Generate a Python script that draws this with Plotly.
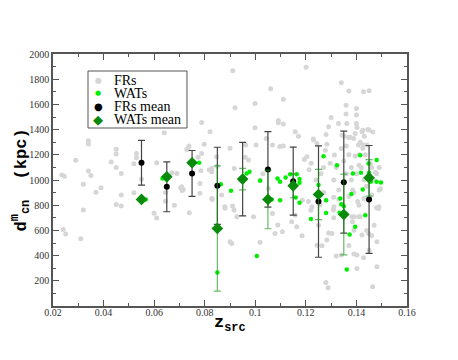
import plotly.graph_objects as go

# ---- data ----
fr_z = [0.0235,0.0245,0.0240,0.0250,0.0290,0.0310,0.0320,0.0320,0.0340,0.0340,0.0340,0.0350,0.0370,0.0390,
        0.0430,0.0450,0.0450,0.0450,0.0450,0.0470,0.0470,0.0470,0.0520,0.0520,0.0530,0.0530,0.0550,0.0600,
        0.0610,0.0610,0.0640,0.0645,0.0645,0.0670,0.0680,0.0690,0.0705,0.0711,0.0709,0.0715,0.0729,0.0735,
        0.0738,0.0739,0.0774,0.0788,0.0785,0.0781,0.0781,0.0788,0.0798,0.0821,0.0818,0.0828,0.0828,0.0830,
        0.0828,0.0847,0.0850,0.0867,0.0880,0.0880,0.0900,0.0911,0.0920,0.0910,0.0916,0.0927,0.0907,0.0900,
        0.0917,0.0940,0.0962,0.0973,0.0960,0.0993,0.0999,0.0999,0.1003,0.1019,0.1020,0.1030,0.1043,0.1052,
        0.1061,0.1068,0.1068,0.1078,0.1089,0.1091,0.1091,0.1097,0.1107,0.1111,0.1111,0.1111,0.1144,0.1158,
        0.1158,0.1164,0.1171,0.1185,0.1194,0.1201,0.1210,0.1221,0.1220,0.1230,0.1244,0.1240,0.1250,0.1260,
        0.1270,0.1270,0.1280,0.1283,0.1290,0.1290,0.1300,0.1310,0.1313,0.1310,0.1320,0.1320,0.1329,0.1330,
        0.1330,0.1340,0.1340,0.1340,0.1343,0.1350,0.1352,0.1359,0.1359,0.1360,0.1360,0.1362,0.1360,0.1369,
        0.1370,0.1370,0.1370,0.1380,0.1380,0.1389,0.1390,0.1390,0.1390,0.1390,0.1400,0.1400,0.1400,0.1400,
        0.1402,0.1408,0.1410,0.1410,0.1415,0.1420,0.1422,0.1428,0.1428,0.1430,0.1431,0.1440,0.1440,0.1442,
        0.1450,0.1450,0.1450,0.1450,0.1460,0.1460,0.1470,0.1470,0.1480,0.1480,0.1490,0.1490,
        0.1230,0.1204,0.1277,0.1296,0.1213,0.1186,0.1310,0.1375,0.1395,0.1425,0.1445,0.1465,0.1415,0.1425,
        0.1435,0.1395,0.1410,0.1455,0.1475,0.1495,0.1460,0.1430,0.1405,0.1385,0.1370,
        0.1224,0.1256,0.1309,0.1311,0.1382,0.1384,0.1408,0.1448,0.1422,0.1487,0.1489,0.1481,0.1303,0.1283,
        0.1264,0.1244,0.1402,0.1428,0.1481,0.1402,0.1279,0.1288,0.1464]
fr_d = [1040,1030,607,572,1157,533,967,761,1311,1285,1071,1036,902,938,
        1142,1245,1206,1100,806,793,1052,880,1128,898,1211,1176,1005,737,
        698,1137,1375,832,900,1057,800,1052,938,917,946,925,1243,1256,
        1269,740,1180,1211,1073,973,894,1457,1283,1383,1079,1065,1092,846,
        854,1185,1110,880,775,787,1251,1867,1573,793,761,708,497,510,
        1092,1000,1277,1158,1180,708,1608,1414,1277,505,1000,1050,1330,933,
        1724,1277,735,576,642,1473,1454,1265,589,1640,1444,1269,668,1383,
        721,628,1348,557,1163,1894,830,1132,760,1325,1290,1000,640,1050,
        1100,900,1362,1283,1422,580,1497,1000,1198,700,396,1100,1449,920,
        850,1771,404,1250,1356,1150,1348,1594,1524,734,1050,1449,1270,1338,
        1706,1200,480,1100,1000,1330,412,602,708,900,1568,1515,1449,1050,
        1417,1277,1200,800,708,1100,1383,1700,1277,1000,1348,950,600,1277,
        1708,1396,443,1050,1100,560,1000,640,1050,780,920,1100,
        1317,1184,1237,1132,1081,840,864,1340,1370,1395,1400,1380,1300,1251,
        1200,1190,1118,1130,1060,930,880,854,830,920,870,
        788,801,761,788,708,669,708,576,563,774,788,510,576,523,
        478,483,404,383,311,298,187,145,153]

wat_z = [0.0567,0.0633,0.0778,0.0864,0.0850,0.0904,0.0966,0.0977,0.1019,0.1006,0.1088,0.1098,0.1098,
         0.1065,0.1120,0.1138,0.1164,0.1175,0.1175,0.1160,0.1175,0.1220,0.1250,0.1270,0.1280,0.1280,
         0.1323,0.1333,0.1336,0.1340,0.1350,0.1362,0.1373,0.1380,0.1386,0.1395,0.1418,0.1415,0.1425,
         0.1435,0.1448,0.1450,0.1457,0.1480,0.1480,0.1497]
wat_d = [846,1012,1137,967,266,914,1052,1065,995,396,1012,986,840,
         846,1020,1046,1046,1007,978,862,819,690,960,1189,840,739,
         1118,741,853,808,792,290,567,888,1052,628,1057,1197,925,
         720,1131,1057,986,1158,986,981]

bin_z = [0.055,0.065,0.075,0.085,0.095,0.105,0.115,0.125,0.135,0.145]
fr_mean = [1137,946,1052,954,1007,1084,991,829,983,846]
fr_err = [178,198,182,306,291,300,270,442,405,428]
wat_mean = [846,1025,1137,615,1007,846,954,885,726,1017]
wat_err = [0,0,0,497,85,233,95,200,320,145]

series_names = ["FRs", "WATs", "FRs mean", "WATs mean"]
series_colors = ["#d6d6d6", "#00ee00", "black", "#0a8a0a"]

fig = go.Figure()
fig.add_trace(go.Scatter(x=fr_z, y=fr_d, mode="markers", name=series_names[0],
                         marker=dict(color=series_colors[0], size=5, line=dict(width=0))))
fig.add_trace(go.Scatter(x=wat_z, y=wat_d, mode="markers", name=series_names[1],
                         marker=dict(color=series_colors[1], size=4.5, line=dict(width=0))))
fig.add_trace(go.Scatter(x=bin_z, y=fr_mean, mode="markers", name=series_names[2],
                         marker=dict(color=series_colors[2], size=6),
                         error_y=dict(type="data", array=fr_err, visible=True,
                                      color="#444444", thickness=1.2, width=3.5)))
fig.add_trace(go.Scatter(x=bin_z, y=wat_mean, mode="markers", name=series_names[3],
                         marker=dict(color=series_colors[3], size=9, symbol="diamond"),
                         error_y=dict(type="data", array=wat_err, visible=True,
                                      color="rgba(20,150,20,0.65)", thickness=1.2, width=3.5)))

axis_common = dict(showline=True, linecolor="#555555", linewidth=1.5, mirror="ticks",
                   ticks="inside", ticklen=6, tickcolor="#555555", tickwidth=1,
                   showgrid=False, zeroline=False, automargin=False,
                   tickfont=dict(family="Liberation Serif", size=10, color="#333333"))

fig.update_xaxes(range=[0.02, 0.16], dtick=0.02, tick0=0.02, ticklabelstandoff=-4,
                 minor=dict(dtick=0.01, ticks="inside", ticklen=3, tickcolor="#555555"),
                 **axis_common)
fig.update_yaxes(range=[0, 2000], tickvals=[200,400,600,800,1000,1200,1400,1600,1800,2000],
                 minor=dict(dtick=100, ticks="inside", ticklen=3, tickcolor="#555555"),
                 **axis_common)

# axis titles
fig.add_annotation(xref="paper", yref="paper", x=0.5, y=-0.072, xanchor="center", yanchor="middle",
                   text="<b>z</b><sub><b>src</b></sub>", showarrow=False,
                   font=dict(family="Liberation Mono", size=17, color="black"))
fig.add_annotation(xref="paper", yref="paper", x=-0.092, y=0.5, xanchor="center", yanchor="middle",
                   textangle=-90, text="<b>d</b><sup><b>m</b></sup><sub><b>cn</b></sub><b>  (kpc)</b>",
                   showarrow=False, font=dict(family="Liberation Mono", size=17, color="black"))

# compact legend box (as in the reference)
fig.add_shape(type="rect", xref="paper", yref="paper", x0=0.0989, x1=0.3785, y0=0.7063, y1=0.9325,
              line=dict(color="#555555", width=1), fillcolor="white", layer="above")
legend_rows_y = [0.894, 0.844, 0.791, 0.741]
legend_glyphs = ["●", "●", "●", "◆"]
legend_glyph_sizes = [8, 7, 10, 13]
for name, col, gy, glyph, gs in zip(series_names, series_colors, legend_rows_y, legend_glyphs, legend_glyph_sizes):
    fig.add_annotation(xref="paper", yref="paper", x=0.128, y=gy, xanchor="center", yanchor="middle",
                       text=glyph, showarrow=False, borderpad=0,
                       font=dict(family="DejaVu Sans", size=gs, color=col))
    fig.add_annotation(xref="paper", yref="paper", x=0.170, y=gy, xanchor="left", yanchor="middle",
                       text=name, showarrow=False, borderpad=0,
                       font=dict(family="Liberation Serif", size=14, color="black"))

# page body has an 8px default margin, so margins are reduced accordingly
fig.update_layout(width=458, height=360, plot_bgcolor="white", paper_bgcolor="white",
                  margin=dict(l=45, r=59, t=46, b=62), showlegend=False)

fig.write_html("out.html")
